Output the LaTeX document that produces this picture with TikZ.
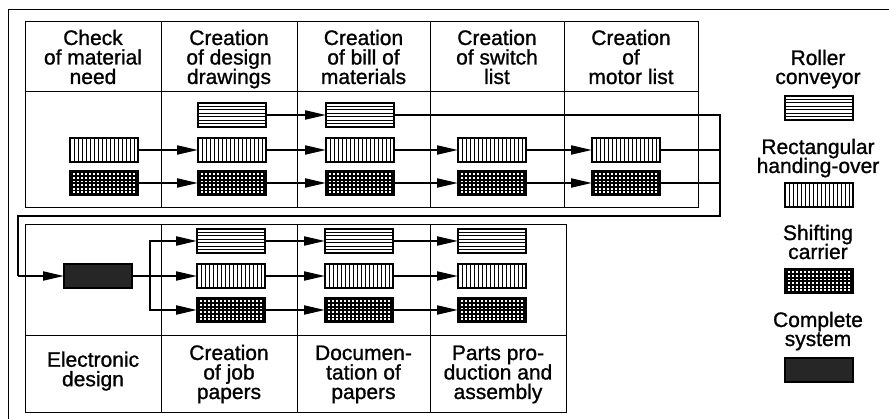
\documentclass[tikz,border=0pt]{standalone}
\usepackage{fontspec}
\setmainfont{Liberation Sans}[FakeBold=1]
\usetikzlibrary{arrows.meta,calc}
\newcommand\labfont{\fontsize{21}{19.5}\selectfont\lineskiplimit=-50pt\relax}
\newcommand\legfont{\fontsize{21}{19}\selectfont\lineskiplimit=-50pt\relax}
\newcommand\hs{\rule{0pt}{16pt}}
\newcommand\ds{\rule[-5pt]{0pt}{5pt}}
\begin{document}
\begin{tikzpicture}[x=1pt,y=-1pt,
  tbl/.style={line width=0.9pt},
  lab/.style={align=center, inner sep=0pt, font=\labfont},
  leg/.style={align=center, inner sep=0pt, font=\legfont},
  box/.style={draw, line width=1.2pt, minimum width=68pt, minimum height=24pt, inner sep=0pt, outer sep=0pt},
  roller/.style={box, fill=white, path picture={
     \foreach \i in {1,...,6}{\draw[line width=0.8pt]
       ($(path picture bounding box.north west)!\i/7!(path picture bounding box.south west)$) --
       ($(path picture bounding box.north east)!\i/7!(path picture bounding box.south east)$);}}},
  handover/.style={box, fill=white, path picture={
     \foreach \i in {1,...,16}{\draw[line width=1pt]
       ($(path picture bounding box.north west)!\i/17!(path picture bounding box.north east)$) --
       ($(path picture bounding box.south west)!\i/17!(path picture bounding box.south east)$);}}},
  shiftc/.style={box, fill=black, path picture={
     \foreach \i in {0,...,15}{\foreach \j in {0,...,5}{
       \fill[white] ($(path picture bounding box.north west)+(3+4*\i,2.4+3.6*\j)$) rectangle ++(1.9,1.8);}}}},
  complete/.style={box, fill=black!85},
  arr/.style={line width=2pt, -{Triangle[length=21pt,width=9pt]}},
  route/.style={line width=2.5pt}
]
\useasboundingbox (0,0) rectangle (889,419);
% outer frame
\draw[tbl] (8,419) -- (8,9) -- (889,9);
% top table
\draw[tbl] (25,21) rectangle (698,207);
\draw[tbl] (25,91) -- (698,91);
\foreach \x in {161,297,430,564} \draw[tbl] (\x,21) -- (\x,207);
% bottom table
\draw[tbl] (25,224) rectangle (566,412);
\draw[tbl] (25,335) -- (566,335);
\foreach \x in {161,297,430} \draw[tbl] (\x,224) -- (\x,412);

% headers
\node[lab] (t1) at (93,59) {\hs Check\\of material\\need\ds};
\node[lab] (t2) at (229,59) {\hs Creation\\of design\\drawings\ds};
\node[lab] (t3) at (363.5,59) {\hs Creation\\of bill of\\materials\ds};
\node[lab] (t4) at (497,59) {\hs Creation\\of switch\\list\ds};
\node[lab] (t5) at (631,59) {\hs Creation\\of\\motor list\ds};
% bottom labels
\node[lab] (b1) at (93,371) {\hs Electronic\\design\ds};
\node[lab] (b2) at (229,374) {\hs Creation\\of job\\papers\ds};
\node[lab] (b3) at (363.5,374) {\hs Documen-\\tation of\\papers\ds};
\node[lab] (b4) at (498,374) {\hs Parts pro-\\duction and\\assembly\ds};

% top boxes
\node[roller] (r2) at (232,115) {};
\node[roller] (r3) at (360,115) {};
\node[handover] (h1) at (104,150) {};
\node[handover] (h2) at (232,150) {};
\node[handover] (h3) at (360,150) {};
\node[handover] (h4) at (492,150) {};
\node[handover] (h5) at (626,150) {};
\node[shiftc] (s1) at (104,183) {};
\node[shiftc] (s2) at (232,183) {};
\node[shiftc] (s3) at (360,183) {};
\node[shiftc] (s4) at (492,183) {};
\node[shiftc] (s5) at (626,183) {};
% bottom boxes
\node[complete] (cs) at (98,276) {};
\node[roller] (r6) at (231,241) {};
\node[roller] (r7) at (359,241) {};
\node[roller] (r8) at (492,241) {};
\node[handover] (h6) at (231,276) {};
\node[handover] (h7) at (359,276) {};
\node[handover] (h8) at (492,276) {};
\node[shiftc] (s6) at (231,310) {};
\node[shiftc] (s7) at (359,310) {};
\node[shiftc] (s8) at (492,310) {};

\coordinate (ce) at (720,216);
\coordinate (cw) at (18,216);
\coordinate (bx) at (150,276);

% top arrows
\draw[arr] (r2) -- (r3);
\foreach \a/\b in {h1/h2,h2/h3,h3/h4,h4/h5,s1/s2,s2/s3,s3/s4,s4/s5} \draw[arr] (\a) -- (\b);
% return route
\draw[route] (r3.east) -- (r3.east -| ce) -- (ce) -- (cw) -- (cw |- cs.west);
\draw[route] (h5.east) -- (h5.east -| ce);
\draw[route] (s5.east) -- (s5.east -| ce);
\draw[arr] (cw |- cs.west) -- (cs.west);
% bottom arrows
\draw[arr] (cs) -- (h6);
\draw[arr, line width=2.3pt] (bx) |- (r6.west);
\draw[arr, line width=2.3pt] (bx) |- (s6.west);
\foreach \a/\b in {r6/r7,r7/r8,h6/h7,h7/h8,s6/s7,s7/s8} \draw[arr] (\a) -- (\b);

% legend
\node[leg] (l1) at (818,69) {\hs Roller\\conveyor\ds};
\node[roller] (lr) at (819,108) {};
\node[leg] (l2) at (818,158) {\hs Rectangular\\handing-over\ds};
\node[handover] (lh) at (819,195) {};
\node[leg] (l3) at (818,244) {\hs Shifting\\carrier\ds};
\node[shiftc] (ls) at (819,281) {};
\node[leg] (l4) at (818,331) {\hs Complete\\system\ds};
\node[complete] (lc) at (819,370) {};
\end{tikzpicture}
\end{document}
